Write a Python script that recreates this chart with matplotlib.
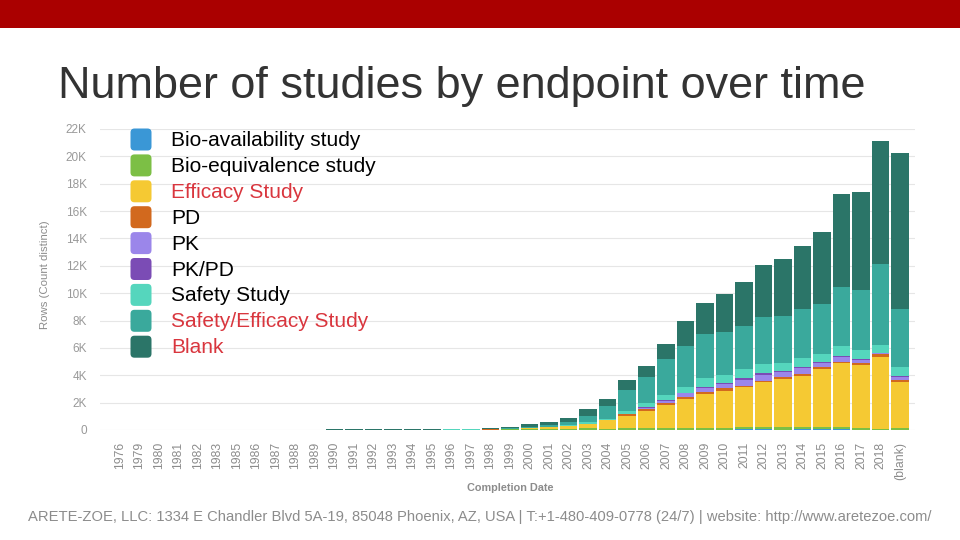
import matplotlib
matplotlib.use('Agg')
import matplotlib.pyplot as plt
from matplotlib.patches import Rectangle, FancyBboxPatch
import numpy as np

# x categories (completion year)
years = ['1976', '1979', '1980', '1981', '1982', '1983', '1985', '1986', '1987', '1988', '1989'] + \
        [str(y) for y in range(1990, 2019)] + ['(blank)']

z11 = [0] * 11  # 1976..1989 show nothing visible

# values per endpoint, 1990 .. 2018, (blank)
bio_availability = z11 + [0, 0, 0, 0, 0, 0, 0, 0, 0, 0, 0, 0, 0,
                          20, 20, 20, 20, 20, 20, 20, 20, 40, 40, 30, 40, 40, 40, 20, 10, 20]
bio_equivalence = z11 + [0, 0, 0, 0, 0, 0, 0, 0, 30, 50, 60, 80, 70,
                         100, 80, 100, 100, 100, 100, 100, 100, 200, 200, 160, 200, 170, 170, 100, 60, 100]
efficacy = z11 + [0, 0, 0, 0, 0, 0, 0, 0, 0, 40, 60, 140, 220,
                  300, 620, 930, 1290, 1710, 2120, 2510, 2730, 2880, 3240, 3510, 3710, 4230, 4660, 4630, 5290, 3360]
pd_ = z11 + [0, 0, 0, 0, 0, 0, 0, 0, 40, 0, 0, 0, 0,
             30, 30, 90, 130, 120, 200, 170, 200, 100, 120, 150, 140, 140, 120, 120, 200, 170]
pk = z11 + [0, 0, 0, 0, 0, 0, 0, 0, 0, 0, 0, 0, 0,
            20, 0, 30, 100, 190, 230, 300, 290, 450, 450, 390, 430, 290, 350, 250, 70, 240]
pk_pd = z11 + [0, 0, 0, 0, 0, 0, 0, 0, 0, 0, 0, 0, 0,
               0, 0, 0, 20, 50, 60, 70, 70, 110, 130, 100, 110, 80, 90, 70, 30, 60]
safety = z11 + [0, 0, 0, 0, 0, 0, 40, 40, 0, 0, 0, 0, 40,
                80, 70, 250, 290, 370, 440, 610, 610, 680, 680, 580, 610, 610, 710, 660, 560, 680]
safety_efficacy = z11 + [0, 0, 0, 0, 0, 0, 40, 40, 0, 50, 100, 120, 250,
                         500, 950, 1480, 1900, 2610, 2970, 3220, 3120, 3140, 3410, 3440, 3580, 3650, 4340, 4380, 5920, 4220]
blank = z11 + [60, 70, 70, 70, 70, 80, 0, 0, 50, 100, 190, 270, 330,
               460, 490, 780, 830, 1090, 1830, 2260, 2800, 3240, 3780, 4110, 4630, 5290, 6750, 7140, 8950, 11420]

series_names = ['Bio-availability study', 'Bio-equivalence study', 'Efficacy Study', 'PD', 'PK',
                'PK/PD', 'Safety Study', 'Safety/Efficacy Study', 'Blank']
series_values = [bio_availability, bio_equivalence, efficacy, pd_, pk, pk_pd, safety, safety_efficacy, blank]
series_colors = ['#3a97d6', '#7cbf45', '#f5c933', '#d2691e', '#9b86ea', '#7b4cb5',
                 '#55d6bd', '#3aa99c', '#2b7568']
label_colors = ['black', 'black', '#d9363e', 'black', 'black', 'black', 'black', '#d9363e', '#d9363e']

ARIAL = ['Liberation Sans', 'DejaVu Sans']

fig = plt.figure(figsize=(9.6, 5.4), dpi=100)

# red banner at the top
fig.add_artist(Rectangle((0, 1 - 28 / 540), 1, 28 / 540, transform=fig.transFigure,
                         facecolor='#aa0000', edgecolor='none'))

fig.text(58 / 960, (540 - 98) / 540, 'Number of studies by endpoint over time',
         family=ARIAL, fontsize=32.4, color='#333333', va='baseline', ha='left')

ax = fig.add_axes([100 / 960, (540 - 430) / 540, 815 / 960, 301 / 540])
x = np.arange(len(years))
bottom = np.zeros(len(years))
for vals, col in zip(series_values, series_colors):
    vals = np.array(vals, dtype=float)
    ax.bar(x, vals, bottom=bottom, width=0.88, color=col, linewidth=0, zorder=2)
    bottom += vals

ax.set_xlim(-1.03, 40.77)
ax.set_ylim(0, 22000)
ax.set_yticks(np.arange(0, 22001, 2000))
ax.set_yticklabels(['0'] + [f'{v}K' for v in range(2, 23, 2)])
ax.set_xticks(x)
ax.set_xticklabels(years, rotation=90)
ax.grid(axis='y', color='#e6e6e6', linewidth=0.8, zorder=0)
ax.set_axisbelow(True)
for s in ax.spines.values():
    s.set_visible(False)
ax.tick_params(axis='y', length=0, pad=9.5, labelsize=8.5, labelcolor='#999999')
ax.tick_params(axis='x', length=0, pad=8.5, labelsize=8.8, labelcolor='#8c8c8c')
for lab in ax.get_xticklabels() + ax.get_yticklabels():
    lab.set_family(ARIAL)

fig.text(45 / 960, (540 - 275) / 540, 'Rows (Count distinct)', rotation=90, fontsize=8.2,
         color='#8c8c8c', ha='center', va='center', family=ARIAL)
fig.text(510 / 960, (540 - 488) / 540, 'Completion Date', fontsize=7.8, fontweight='bold',
         color='#8c8c8c', ha='center', va='center', family=ARIAL)

# legend drawn on a pixel-coordinate overlay
ov = fig.add_axes([0, 0, 1, 1], facecolor='none')
ov.set_xlim(0, 960)
ov.set_ylim(540, 0)
ov.axis('off')
for i, (name, col, lc) in enumerate(zip(series_names, series_colors, label_colors)):
    cy = 139.5 + i * 25.9
    ov.add_patch(FancyBboxPatch((133, cy - 8.5), 16, 17, boxstyle='round,pad=2.5,rounding_size=4',
                                facecolor=col, edgecolor='none'))
    ov.text(171, cy + 1, name, fontsize=15, color=lc, va='center', ha='left', family=ARIAL)

fig.text(480 / 960, (540 - 517) / 540,
         'ARETE-ZOE, LLC: 1334 E Chandler Blvd 5A-19, 85048 Phoenix, AZ, USA | T:+1-480-409-0778 (24/7) | website: http://www.aretezoe.com/',
         fontsize=10.6, color='#8c8c8c', ha='center', va='center', family=ARIAL)

fig.savefig('out.png', dpi=100)
